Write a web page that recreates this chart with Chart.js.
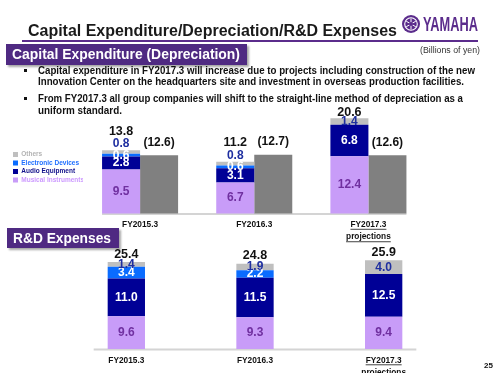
<!DOCTYPE html>
<html>
<head>
<meta charset="utf-8">
<script src="https://cdn.jsdelivr.net/npm/chart.js@4.4.1/dist/chart.umd.min.js"></script>
<style>
  html, body { margin: 0; padding: 0; background: #fff; }
  #page { position: relative; width: 500px; height: 375px; overflow: hidden; font-family: 'Liberation Sans', Arial, sans-serif; }
  #page canvas { position: absolute; left: 0; top: 0; }
  .abs { position: absolute; white-space: nowrap; z-index: 2; }
  .fit { display: inline-block; transform-origin: 0 50%; }
  .title { left: 28px; top: 23px; font-size: 16px; line-height: 16px; font-weight: bold; color: #1a1a1a; }
  .rule { left: 22px; top: 40px; width: 456px; height: 2px; background: #5b2c8c; }
  .tab { background: #4f2a82; color: #fff; font-weight: bold; font-size: 14px; box-shadow: 2px 2px 2px rgba(0,0,0,0.35); padding-left: 6px; box-sizing: border-box; }
  .unit { left: 420px; top: 45px; font-size: 8.5px; line-height: 10px; color: #333; }
  .bullet { font-size: 10px; line-height: 12px; font-weight: bold; color: #111; left: 38px; }
  .sq { position: absolute; width: 3px; height: 3px; background: #111; left: 24px; z-index: 2; }
  .brand { left: 423px; top: 13px; font-size: 20px; line-height: 22px; font-weight: bold; color: #5b2c8c; }
  .pg { left: 484px; top: 361px; font-size: 8px; line-height: 10px; font-weight: bold; color: #111; }
</style>
</head>
<body>
<div id="page">
  <canvas id="capexChart" width="500" height="375"></canvas>
  <canvas id="rdChart" width="500" height="375"></canvas>

  <div class="abs title"><span class="fit" data-w="369">Capital Expenditure/Depreciation/R&amp;D Expenses</span></div>
  <svg class="abs" style="left:402px;top:15px" width="18" height="18" viewBox="0 0 18 18">
    <circle cx="9" cy="9" r="9" fill="#5b2c8c"/>
    <circle cx="9" cy="9" r="6.3" fill="none" stroke="#fff" stroke-width="1.1"/>
    <path d="M9 3.5 V14.5 M4.2 6.2 L13.8 11.8 M4.2 11.8 L13.8 6.2" stroke="#fff" stroke-width="1"/>
    <circle cx="9" cy="9" r="2" fill="#5b2c8c"/>
  </svg>
  <div class="abs brand"><span class="fit" data-w="55">YAMAHA</span></div>
  <div class="abs rule"></div>

  <div class="abs tab" style="left:6px;top:44px;width:241px;height:21px;line-height:21px;"><span class="fit" data-w="228">Capital Expenditure (Depreciation)</span></div>
  <div class="abs unit"><span class="fit" data-w="60">(Billions of yen)</span></div>

  <div class="sq" style="top:69px"></div>
  <div class="abs bullet" style="top:65px"><span class="fit" data-w="437">Capital expenditure in FY2017.3 will increase due to projects including construction of the new</span></div>
  <div class="abs bullet" style="top:76px"><span class="fit" data-w="426">Innovation Center on the headquarters site and investment in overseas production facilities.</span></div>
  <div class="sq" style="top:97px"></div>
  <div class="abs bullet" style="top:93px"><span class="fit" data-w="425">From FY2017.3 all group companies will shift to the straight-line method of depreciation as a</span></div>
  <div class="abs bullet" style="top:105px"><span class="fit" data-w="84">uniform standard.</span></div>

  <div class="abs tab" style="left:7px;top:228px;width:112px;height:20px;line-height:20px;"><span class="fit" data-w="98">R&amp;D Expenses</span></div>
  <div class="abs pg">25</div>
</div>

<script>
// categories
const categories = ['FY2015.3', 'FY2016.3', ['FY2017.3', 'projections']];
const seriesNames = ['Musical Instruments', 'Audio Equipment', 'Electronic Devices', 'Others'];

// capital expenditure (billions of yen)
const capexMusical = [9.5, 6.7, 12.4];
const capexAudio = [2.8, 3.1, 6.8];
const capexElectronic = [0.6, 0.6, 0];
const capexOthers = [0.8, 0.8, 1.4];
const capexTotal = [13.8, 11.2, 20.6];
const depreciation = [12.6, 12.7, 12.6];

// R&D expenses (billions of yen)
const rdMusical = [9.6, 9.3, 9.4];
const rdAudio = [11.0, 11.5, 12.5];
const rdElectronic = [3.4, 2.2, 0];
const rdOthers = [1.4, 1.9, 4.0];
const rdTotal = [25.4, 24.8, 25.9];

const FONT = "'Liberation Sans', Arial, sans-serif";
const segColors = ['#c89cf8', '#000096', '#0a6cff', '#bfbfbf'];
const segLabelColors = ['#7030a0', '#ffffff', '#ffffff', '#1f2fa0'];
const legendTextColors = ['#cc99ff', '#10108a', '#1f6fff', '#b3b3b3'];

// scale each text line to the width it has on the slide
document.querySelectorAll('.fit').forEach(el => {
    const w = el.getBoundingClientRect().width;
    el.style.transform = 'scaleX(' + (Number(el.dataset.w) / w) + ')';
});

function stackDatasets(values) {
    return values.map((data, k) => ({
        label: seriesNames[k],
        data: data,
        stack: 'main',
        backgroundColor: segColors[k],
        labelColor: segLabelColors[k],
        isTop: k === values.length - 1,
        borderWidth: 0,
        clip: false
    }));
}

const barLabels = {
    id: 'barLabels',
    afterDatasetsDraw(chart, args, opts) {
        const ctx = chart.ctx;
        ctx.save();
        ctx.font = 'bold 12px ' + FONT;
        ctx.textAlign = 'center';
        ctx.textBaseline = 'middle';
        chart.data.labels.forEach((_, i) => {
            let top = Infinity, x = 0, above = false;
            chart.data.datasets.forEach((ds, d) => {
                const el = chart.getDatasetMeta(d).data[i];
                const v = ds.data[i];
                if (ds.stack === 'dep') {
                    ctx.fillStyle = '#111';
                    ctx.fillText('(' + v.toFixed(1) + ')', el.x, el.y - 13);
                    return;
                }
                if (!v) return;
                top = Math.min(top, el.y);
                x = el.x;
                let y = (el.y + el.base) / 2;
                if (ds.isTop && v < opts.smallAbove) {
                    y = el.y - 6;
                    above = true;
                }
                ctx.fillStyle = ds.labelColor;
                ctx.fillText(v.toFixed(1), el.x, y);
            });
            ctx.fillStyle = '#111';
            ctx.font = 'bold 12.5px ' + FONT;
            ctx.fillText(opts.totals[i].toFixed(1), x, above ? top - 19 : top - opts.totalGap);
            ctx.font = 'bold 12px ' + FONT;
        });
        ctx.restore();
    }
};

const baseLine = {
    id: 'baseLine',
    beforeDatasetsDraw(chart, args, opts) {
        let left = Infinity, right = -Infinity;
        chart.data.datasets.forEach((ds, d) => {
            chart.getDatasetMeta(d).data.forEach(el => {
                left = Math.min(left, el.x - el.width / 2);
                right = Math.max(right, el.x + el.width / 2);
            });
        });
        const ctx = chart.ctx;
        const y = chart.chartArea.bottom + 0.5;
        ctx.save();
        ctx.strokeStyle = '#d4d4d4';
        ctx.lineWidth = 2;
        ctx.beginPath();
        ctx.moveTo(left - opts.extend, y);
        ctx.lineTo(right + opts.extend, y);
        ctx.stroke();
        ctx.restore();
    },
    afterDraw(chart) {
        // underline the projection year label
        const scale = chart.scales.x;
        const ticks = scale.options.ticks;
        const size = ticks.font.size;
        const lh = size * ticks.font.lineHeight;
        const lines = [].concat(chart.data.labels[2]);
        const ctx = chart.ctx;
        const cx = scale.getPixelForTick(2);
        ctx.save();
        ctx.font = 'bold ' + size + 'px ' + FONT;
        ctx.strokeStyle = '#111';
        ctx.lineWidth = 0.8;
        lines.forEach((t, j) => {
            const w = ctx.measureText(t).width;
            const y = scale.top + ticks.padding + lh * (j + 0.5) + size * 0.55;
            ctx.beginPath();
            ctx.moveTo(cx - w / 2, y);
            ctx.lineTo(cx + w / 2, y);
            ctx.stroke();
        });
        ctx.restore();
    }
};

function xScale(height) {
    return {
        stacked: true,
        grid: { display: false, drawTicks: false },
        border: { display: false },
        ticks: {
            color: '#111',
            padding: 5,
            font: { family: FONT, size: 8.3, weight: 'bold', lineHeight: 1.5 }
        },
        afterFit: (scale) => { scale.height = height; }
    };
}

new Chart(document.getElementById('capexChart'), {
    type: 'bar',
    data: {
        labels: categories,
        datasets: stackDatasets([capexMusical, capexAudio, capexElectronic, capexOthers]).concat([{
            label: 'Depreciation',
            data: depreciation,
            stack: 'dep',
            backgroundColor: '#808080',
            borderWidth: 0,
            clip: false
        }])
    },
    options: {
        responsive: false,
        animation: false,
        layout: { padding: { left: 11, right: 74.5, top: 121, bottom: 131.5 } },
        datasets: { bar: { barPercentage: 1, categoryPercentage: 0.666 } },
        scales: {
            x: xScale(30),
            y: { stacked: true, display: false, min: 0, max: 20 }
        },
        plugins: {
            tooltip: { enabled: false },
            legend: {
                position: 'left',
                align: 'center',
                fullSize: false,
                maxWidth: 72,
                labels: {
                    boxWidth: 5,
                    boxHeight: 5,
                    padding: 2,
                    font: { family: FONT, size: 6.5, weight: 'bold' },
                    generateLabels: () => [3, 2, 1, 0].map(k => ({
                        text: seriesNames[k],
                        fillStyle: segColors[k],
                        strokeStyle: segColors[k],
                        fontColor: legendTextColors[k],
                        lineWidth: 0,
                        hidden: false,
                        datasetIndex: k
                    }))
                }
            },
            barLabels: { totals: capexTotal, smallAbove: 1, totalGap: 6 },
            baseLine: { extend: 0 }
        }
    },
    plugins: [barLabels, baseLine]
});

new Chart(document.getElementById('rdChart'), {
    type: 'bar',
    data: {
        labels: categories,
        datasets: stackDatasets([rdMusical, rdAudio, rdElectronic, rdOthers])
    },
    options: {
        responsive: false,
        animation: false,
        layout: { padding: { left: 62, right: 52, top: 260, bottom: 2 } },
        datasets: { bar: { barPercentage: 1, categoryPercentage: 0.29 } },
        scales: {
            x: xScale(24),
            y: { stacked: true, display: false, min: 0, max: 26 }
        },
        plugins: {
            tooltip: { enabled: false },
            legend: { display: false },
            barLabels: { totals: rdTotal, smallAbove: 0, totalGap: 8 },
            baseLine: { extend: 14 }
        }
    },
    plugins: [barLabels, baseLine]
});
</script>
</body>
</html>
